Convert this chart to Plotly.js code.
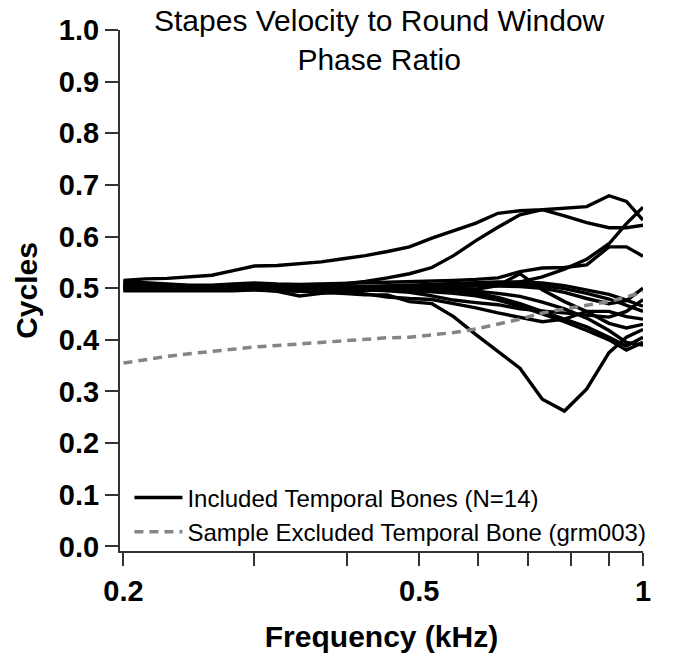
<!DOCTYPE html>
<html>
<head>
<meta charset="utf-8">
<script src="https://cdn.plot.ly/plotly-3.0.1.min.js"></script>
<style>
  html, body { margin: 0; padding: 0; background: #fff; }
  #graph { width: 691px; height: 668px; }
</style>
</head>
<body>
<div id="graph"></div>
<script>
// Frequency grid (kHz)
const freq = [0.2, 0.214, 0.229, 0.245, 0.263, 0.281, 0.3, 0.322, 0.345, 0.369, 0.395, 0.423, 0.453,
              0.485, 0.52, 0.556, 0.596, 0.638, 0.683, 0.732, 0.784, 0.84, 0.9, 0.95, 1.0];

// Included temporal bones (cycles)
const boneA = [0.515, 0.518, 0.519, 0.522, 0.525, 0.534, 0.543, 0.544, 0.548, 0.551, 0.557, 0.563, 0.571,
               0.580, 0.597, 0.611, 0.626, 0.645, 0.650, 0.652, 0.655, 0.658, 0.679, 0.668, 0.632];
const boneB = [0.511, 0.509, 0.507, 0.505, 0.505, 0.506, 0.508, 0.506, 0.506, 0.507, 0.508, 0.513, 0.520,
               0.528, 0.540, 0.563, 0.592, 0.618, 0.642, 0.652, 0.640, 0.627, 0.617, 0.617, 0.622];
const boneC = [0.507, 0.505, 0.503, 0.503, 0.502, 0.503, 0.505, 0.503, 0.500, 0.501, 0.502, 0.503, 0.503,
               0.503, 0.504, 0.505, 0.505, 0.507, 0.512, 0.522, 0.537, 0.556, 0.586, 0.625, 0.657];
const boneD = [0.513, 0.510, 0.508, 0.506, 0.506, 0.508, 0.510, 0.508, 0.507, 0.508, 0.509, 0.510, 0.511,
               0.512, 0.514, 0.515, 0.517, 0.520, 0.532, 0.539, 0.540, 0.545, 0.580, 0.580, 0.562];
const boneE = [0.505, 0.502, 0.500, 0.500, 0.500, 0.500, 0.499, 0.498, 0.495, 0.493, 0.490, 0.487, 0.487,
               0.474, 0.470, 0.445, 0.410, 0.378, 0.345, 0.285, 0.262, 0.305, 0.375, 0.405, 0.420];
const boneF = [0.499, 0.498, 0.497, 0.497, 0.497, 0.498, 0.500, 0.499, 0.497, 0.498, 0.499, 0.500, 0.501,
               0.502, 0.503, 0.503, 0.504, 0.504, 0.503, 0.500, 0.492, 0.480, 0.470, 0.476, 0.500];
const boneG = [0.503, 0.502, 0.501, 0.501, 0.500, 0.501, 0.503, 0.502, 0.500, 0.501, 0.502, 0.503, 0.504,
               0.505, 0.507, 0.509, 0.511, 0.512, 0.512, 0.510, 0.505, 0.497, 0.488, 0.477, 0.465];
const boneH = [0.496, 0.496, 0.496, 0.496, 0.496, 0.497, 0.499, 0.498, 0.495, 0.496, 0.498, 0.500, 0.502,
               0.503, 0.505, 0.507, 0.508, 0.509, 0.508, 0.505, 0.499, 0.490, 0.479, 0.466, 0.455];
const boneI = [0.509, 0.507, 0.505, 0.504, 0.504, 0.505, 0.507, 0.505, 0.503, 0.503, 0.503, 0.502, 0.501,
               0.500, 0.499, 0.498, 0.498, 0.505, 0.528, 0.497, 0.474, 0.455, 0.432, 0.423, 0.430];
const boneJ = [0.501, 0.500, 0.499, 0.499, 0.499, 0.500, 0.502, 0.500, 0.498, 0.498, 0.498, 0.497, 0.495,
               0.492, 0.485, 0.477, 0.472, 0.468, 0.460, 0.456, 0.452, 0.447, 0.444, 0.455, 0.478];
const boneK = [0.498, 0.497, 0.497, 0.496, 0.496, 0.496, 0.497, 0.494, 0.485, 0.490, 0.492, 0.489, 0.483,
               0.480, 0.478, 0.470, 0.462, 0.452, 0.443, 0.435, 0.440, 0.455, 0.455, 0.445, 0.440];
const boneL = [0.502, 0.501, 0.500, 0.500, 0.499, 0.500, 0.501, 0.500, 0.499, 0.500, 0.500, 0.499, 0.498,
               0.497, 0.496, 0.494, 0.490, 0.482, 0.470, 0.455, 0.440, 0.425, 0.405, 0.388, 0.405];
const boneM = [0.495, 0.495, 0.495, 0.495, 0.495, 0.495, 0.497, 0.496, 0.494, 0.495, 0.496, 0.496, 0.496,
               0.495, 0.493, 0.490, 0.485, 0.477, 0.465, 0.450, 0.435, 0.418, 0.400, 0.380, 0.395];
const boneN = [0.505, 0.504, 0.502, 0.501, 0.501, 0.502, 0.504, 0.502, 0.500, 0.500, 0.501, 0.501, 0.501,
               0.500, 0.499, 0.497, 0.494, 0.490, 0.484, 0.473, 0.460, 0.442, 0.418, 0.395, 0.390];

// Sample excluded temporal bone (grm003)
const excluded = [0.355, 0.362, 0.368, 0.373, 0.378, 0.383, 0.386, 0.389, 0.392, 0.395, 0.399, 0.402, 0.404,
                  0.405, 0.409, 0.414, 0.421, 0.430, 0.440, 0.452, 0.460, 0.467, 0.474, 0.483, 0.492];

const included = [boneA, boneB, boneC, boneD, boneE, boneF, boneG, boneH, boneI, boneJ, boneK, boneL, boneM, boneN];

const xTicks = [0.2, 0.3, 0.4, 0.5, 0.6, 0.7, 0.8, 0.9, 1];
const xTickText = ['0.2', '', '', '0.5', '', '', '', '', '1'];

const fontFamily = 'Liberation Sans, Arial, Helvetica, sans-serif';

const traces = included.map((ys, i) => ({
  x: freq,
  y: ys,
  type: 'scatter',
  mode: 'lines',
  name: 'Included Temporal Bones (N=14)',
  legendgroup: 'included',
  showlegend: i === 0,
  line: { color: '#000000', width: 3.4 }
}));

traces.push({
  x: freq,
  y: excluded,
  type: 'scatter',
  mode: 'lines',
  name: 'Sample Excluded Temporal Bone (grm003)',
  line: { color: '#858585', width: 3.5, dash: '9px,6px' }
});

const layout = {
  width: 691,
  height: 668,
  margin: { l: 120, r: 48, t: 30, b: 117 },
  paper_bgcolor: '#ffffff',
  plot_bgcolor: '#ffffff',
  font: { family: fontFamily, color: '#000000' },
  // title drawn as an annotation so it can sit over the top of the plot area
  annotations: [{
    text: 'Stapes Velocity to Round Window<br>Phase Ratio',
    font: { family: fontFamily, size: 30, color: '#000000' },
    xref: 'paper', yref: 'paper',
    x: 0.497, y: 1.053, xanchor: 'center', yanchor: 'top',
    showarrow: false
  }],
  showlegend: true,
  legend: {
    x: 0.018, y: 0.145, xanchor: 'left', yanchor: 'top',
    bgcolor: 'rgba(0,0,0,0)',
    font: { family: fontFamily, size: 24, color: '#000000' },
    itemwidth: 48,
    tracegroupgap: 0
  },
  xaxis: {
    type: 'log',
    range: [Math.log10(0.2) - 0.0047, 0],
    tickvals: xTicks,
    ticktext: xTickText,
    ticks: 'outside',
    ticklen: 13,
    tickwidth: 2,
    tickcolor: '#333333',
    showline: true,
    linewidth: 2,
    linecolor: '#333333',
    showgrid: false,
    zeroline: false,
    tickfont: { family: fontFamily, size: 29, weight: 'bold', color: '#000000' },
    title: {
      text: 'Frequency (kHz)',
      font: { family: fontFamily, size: 30, weight: 'bold', color: '#000000' },
      standoff: 20
    }
  },
  yaxis: {
    range: [-0.009, 1.0],
    tick0: 0,
    dtick: 0.1,
    tickformat: '.1f',
    ticks: 'outside',
    ticklen: 13,
    tickwidth: 2,
    tickcolor: '#333333',
    showline: true,
    linewidth: 2,
    linecolor: '#333333',
    showgrid: false,
    zeroline: false,
    tickfont: { family: fontFamily, size: 29, weight: 'bold', color: '#000000' },
    title: {
      text: 'Cycles',
      font: { family: fontFamily, size: 30, weight: 'bold', color: '#000000' },
      standoff: 12
    }
  }
};

Plotly.newPlot('graph', traces, layout, { displayModeBar: false, staticPlot: true });
</script>
</body>
</html>
